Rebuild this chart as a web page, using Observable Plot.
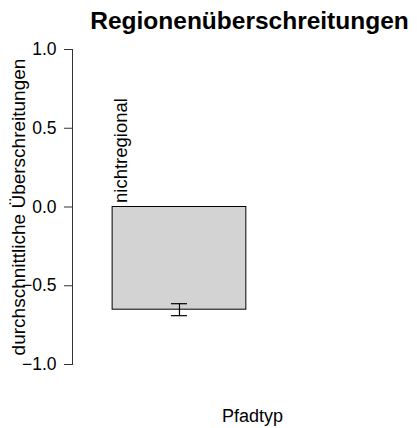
<!DOCTYPE html>
<html><head><meta charset="utf-8">
<script src="https://cdn.jsdelivr.net/npm/d3@7"></script>
<script src="https://cdn.jsdelivr.net/npm/@observablehq/plot@0.6"></script>
<style>body{margin:0;background:#fff} svg{display:block}</style>
</head><body><div id="chart"></div>
<script>
const categories = ["nichtregional"];
const means = [-0.652];
const errors = [0.038];
const yTicks = [-1, -0.5, 0, 0.5, 1];
const title = "Regionenüberschreitungen";
const xLabel = "Pfadtyp";
const yLabel = "durchschnittliche Überschreitungen";

const barWidth = 1, barSpace = 0.2, capHalf = 0.06;
const data = categories.map((c, i) => {
  const x1 = barSpace + i * (barWidth + barSpace);
  return {c, mean: means[i], err: errors[i], x1, x2: x1 + barWidth, xc: x1 + barWidth / 2};
});
const font = "'Liberation Sans', Arial, Helvetica, sans-serif";

const chart = Plot.plot({
  width: 417, height: 428,
  marginLeft: 72, marginRight: 0, marginTop: 49, marginBottom: 64,
  style: {fontFamily: font, background: "#fff", color: "#000"},
  x: {domain: [-0.1, 2.48], axis: null},
  y: {domain: [-1, 1], axis: null},
  marks: [
    Plot.rect(data, {x1: "x1", x2: "x2", y1: () => 0, y2: "mean", fill: "#d3d3d3", stroke: "#000", strokeWidth: 1}),
    Plot.ruleX(data, {x: "xc", y1: d => d.mean - d.err, y2: d => d.mean + d.err, stroke: "#000", strokeWidth: 1.2}),
    Plot.ruleY(data, {y: d => d.mean - d.err, x1: d => d.xc - capHalf, x2: d => d.xc + capHalf, stroke: "#000", strokeWidth: 1.2}),
    Plot.ruleY(data, {y: d => d.mean + d.err, x1: d => d.xc - capHalf, x2: d => d.xc + capHalf, stroke: "#000", strokeWidth: 1.2}),
    Plot.text(data, {x: "x1", y: () => 0, text: "c", rotate: -90, textAnchor: "start", lineAnchor: "middle", fontSize: 18.5, dx: 8, dy: -4, fill: "#000"}),
    Plot.axisY({ticks: yTicks, tickSize: 8, tickPadding: 8, tickFormat: d3.format(".1f"), fontSize: 17.5, label: null, stroke: "#333", fill: "#000"}),
    Plot.frame({anchor: "left", stroke: "#333"}),
    Plot.text([title], {frameAnchor: "top", textAnchor: "middle", lineAnchor: "middle", text: d => d, fontSize: 24.5, fontWeight: "bold", dx: 4.5, dy: -28.8, fill: "#000"}),
    Plot.text([xLabel], {frameAnchor: "bottom", textAnchor: "middle", lineAnchor: "middle", text: d => d, fontSize: 18, dx: 7.5, dy: 52, fill: "#000"}),
    Plot.text([yLabel], {frameAnchor: "left", textAnchor: "middle", lineAnchor: "middle", text: d => d, fontSize: 19, rotate: -90, dx: -54, fill: "#000"})
  ]
});
document.getElementById("chart").appendChild(chart);
</script>
</body></html>
